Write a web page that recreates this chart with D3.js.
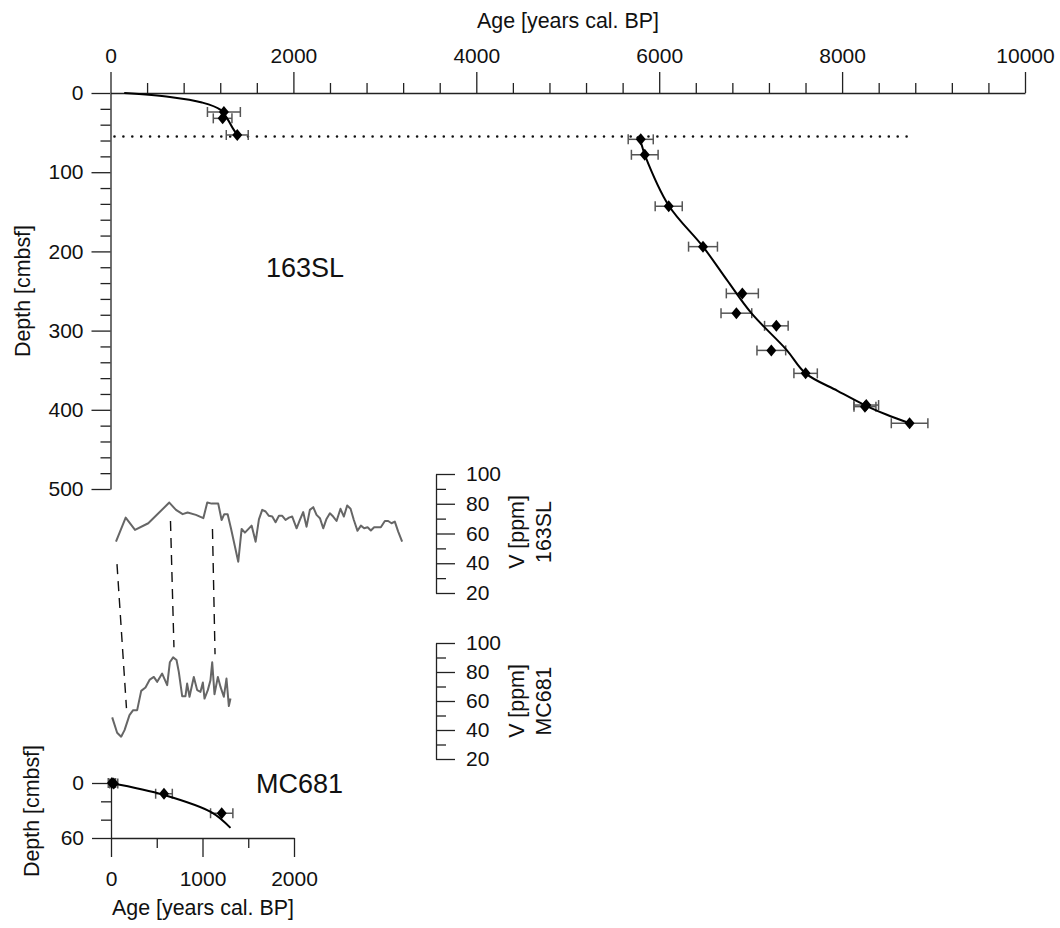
<!DOCTYPE html>
<html><head><meta charset="utf-8">
<script src="https://cdn.jsdelivr.net/npm/d3@7"></script>
<style>body{margin:0;background:#fff} text{font-family:"Liberation Sans",Arial,sans-serif;fill:#111}</style>
</head><body><svg id="c" width="1060" height="928"></svg>
<script>
// ---- data ----
const ageMajorTicks = [0,2000,4000,6000,8000,10000];
const depthMajorTicks = [0,100,200,300,400,500];
const vTicks = [20,40,60,80,100];
const mcDepthTicks = [0,60];
const mcAgeTicks = [0,1000,2000];

// 163SL dated points (age, depth, 1-sigma)
const slAge   = [1240,1226,1386,5798,5842,6104,6479,6909,6844,7281,7226,7601,8264,8250,8738];
const slDepth = [24,32,53,58.5,78,143,194,253,278,294,325,354,394,396,417];
const slErr   = [180,102,120,137,146,148,158,175,168,129,157,128,135,120,200];
// 163SL age model (two segments around hiatus)
const slModelUpperAge   = [150,650,1000,1200,1280,1340,1386];
const slModelUpperDepth = [0,5,12,21,33,45,53];
const slModelLowerAge   = [5757,5800,5842,6104,6479,6740,7008,7390,7601,7950,8264,8483,8738];
const slModelLowerDepth = [55,63,78,142,194,236,278,324,354,376,395,406,417];
const hiatusDepth = 55, hiatusAgeEnd = 8800;

// V [ppm] 163SL
const v163X = [60,166,268,413,643,716,789,843,934,1015,1058,1106,1178,1215,1244,1281,1317,1397,1434,1470,1543,1587,1623,1659,1696,1732,1769,1805,1842,1878,1914,1951,1987,2035,2071,2107,2144,2180,2217,2253,2290,2326,2362,2399,2435,2472,2515,2552,2588,2625,2661,2701,2738,2774,2811,2847,2883,2920,2956,3000,3036,3073,3109,3146,3189];
const v163V = [54.5,70.7,62.4,66.9,80.8,75.9,73.0,74.1,72.5,70.3,80.8,80.1,80.1,69.1,73.0,73.0,63.5,41.0,63.1,60.6,65.3,54.5,69.5,75.9,74.8,71.9,71.4,67.6,71.9,71.9,69.1,70.7,71.4,63.5,69.1,74.4,64.6,75.9,77.7,72.5,70.3,63.5,69.8,73.6,71.4,68.4,76.6,71.4,78.8,76.6,69.1,61.8,65.3,63.5,64.2,62.0,64.2,64.2,64.2,68.4,68.4,66.9,68.0,61.3,54.5];
// V [ppm] MC681
const v681Age = [13,67,111,148,202,242,286,330,377,424,468,505,559,614,643,679,716,741,778,814,832,858,905,942,978,1004,1022,1058,1087,1106,1131,1168,1197,1233,1262,1288,1306];
const v681V   = [48.7,38.1,35.4,39.9,50.3,53.7,53.7,67.0,69.3,74.8,76.6,73.2,78.9,70.9,86.7,90.1,88.3,80.1,63.3,63.3,72.0,62.9,76.6,67.5,66.3,72.7,61.7,67.5,74.3,86.7,64.7,76.6,69.7,62.9,75.5,56.5,61.7];
// tie lines: 163SL (x, V) -> MC681 (age, V)
const tieTopX = [71,656,1115];
const tieTopV = [39.4,68.4,63];
const tieBotAge = [169,688,1137];
const tieBotV = [55.1,97,92.2];

// MC681 dated points
const mcAge   = [10,30,579,1210];
const mcDepth = [0,0.5,11.7,33];
const mcErr   = [40,44,91,122];
const mcModelAge   = [0,580,1100,1306];
const mcModelDepth = [0,13,32,49];

// ---- scales ----
const svg = d3.select("#c");
const FONT = '"Liberation Sans",Arial,sans-serif';
const TICKFS = 21;
const x   = d3.scaleLinear().domain([0,10000]).range([110.5,1025]);
const yD  = d3.scaleLinear().domain([0,500]).range([93,489]);
const yV1 = d3.scaleLinear().domain([20,100]).range([593,474]);
const yV2 = d3.scaleLinear().domain([20,100]).range([759,643]);
const xM  = d3.scaleLinear().domain([0,2000]).range([111,294]);
const yM  = d3.scaleLinear().domain([0,60]).range([783,838]);

function styleAxis(g, hideDomain){
  g.attr("font-size",TICKFS).attr("font-family",FONT);
  g.selectAll("line").attr("stroke","#222").attr("stroke-width",1.3);
  g.select(".domain").attr("stroke","#222").attr("stroke-width",1.3);
  if(hideDomain) g.select(".domain").remove();
  g.selectAll("text").attr("fill","#111");
}
function addAxis(axis, tf, hide){
  const g = svg.append("g").attr("transform",tf).call(axis);
  styleAxis(g, hide); return g;
}
const minor = (a,b,s,ex)=>d3.range(a,b+0.001,s).filter(v=>!ex.includes(v));
const fmt = d3.format("d");

// top age axis
addAxis(d3.axisTop(x).tickValues(minor(0,10000,400,ageMajorTicks)).tickSize(10).tickSizeOuter(0).tickFormat(""),`translate(0,${yD(0)})`,true);
addAxis(d3.axisTop(x).tickValues(ageMajorTicks).tickSize(21).tickSizeOuter(0).tickPadding(9).tickFormat(fmt),`translate(0,${yD(0)})`);
// left depth axis
addAxis(d3.axisLeft(yD).tickValues(minor(0,500,20,depthMajorTicks)).tickSize(10).tickSizeOuter(0).tickFormat(""),`translate(${x(0)},0)`,true);
addAxis(d3.axisLeft(yD).tickValues(depthMajorTicks).tickSize(19).tickSizeOuter(0).tickPadding(8).tickFormat(fmt),`translate(${x(0)},0)`);

// V axes
[yV1,yV2].forEach(ys=>{
  addAxis(d3.axisRight(ys).tickValues([30,50,70,90]).tickSize(10).tickSizeOuter(0).tickFormat(""),`translate(436,0)`,true);
  addAxis(d3.axisRight(ys).tickValues(vTicks).tickSize(19).tickSizeOuter(0).tickPadding(11).tickFormat(fmt),`translate(436,0)`);
});

// MC681 axes
addAxis(d3.axisLeft(yM).tickValues([20,40]).tickSize(10).tickSizeOuter(0).tickFormat(""),`translate(${xM(0)},0)`,true);
addAxis(d3.axisLeft(yM).tickValues(mcDepthTicks).tickSize(19).tickSizeOuter(0).tickPadding(8).tickFormat(fmt),`translate(${xM(0)},0)`);
addAxis(d3.axisBottom(xM).tickValues([500,1500]).tickSize(10).tickSizeOuter(0).tickFormat(""),`translate(0,${yM(60)})`,true);
addAxis(d3.axisBottom(xM).tickValues(mcAgeTicks).tickSize(19).tickSizeOuter(0).tickPadding(14).tickFormat(fmt),`translate(0,${yM(60)})`);

// ---- hiatus dotted line ----
svg.append("line").attr("x1",x(0)+4).attr("x2",x(hiatusAgeEnd)).attr("y1",yD(hiatusDepth)).attr("y2",yD(hiatusDepth))
  .attr("stroke","#111").attr("stroke-width",2.6).attr("stroke-linecap","round").attr("stroke-dasharray","0,8.9");

// ---- helpers ----
function errBars(ages, depths, errs, xs, ys){
  const g = svg.append("g").attr("stroke","#555").attr("stroke-width",1.5).attr("fill","none");
  ages.forEach((a,i)=>{
    const yy = ys(depths[i]);
    g.append("line").attr("x1",xs(a-errs[i])).attr("x2",xs(a+errs[i])).attr("y1",yy).attr("y2",yy);
    [a-errs[i],a+errs[i]].forEach(e=>g.append("line").attr("x1",xs(e)).attr("x2",xs(e)).attr("y1",yy-5).attr("y2",yy+5));
  });
}
function diamonds(ages, depths, xs, ys){
  svg.append("g").selectAll("path").data(ages).join("path")
    .attr("d","M0,-6L5,0L0,6L-5,0Z")
    .attr("transform",(a,i)=>`translate(${xs(a)},${ys(depths[i])})`)
    .attr("fill","#000");
}
function model(ages, depths, xs, ys){
  const pts = ages.map((a,i)=>[xs(a),ys(depths[i])]);
  svg.append("path").attr("d",d3.line().curve(d3.curveCatmullRom.alpha(0.5))(pts))
    .attr("fill","none").attr("stroke","#000").attr("stroke-width",2);
}

// ---- 163SL age-depth ----
errBars(slAge, slDepth, slErr, x, yD);
model(slModelUpperAge, slModelUpperDepth, x, yD);
model(slModelLowerAge, slModelLowerDepth, x, yD);
diamonds(slAge, slDepth, x, yD);

// ---- V curves ----
svg.append("path").attr("d",d3.line()(v163X.map((a,i)=>[x(a),yV1(v163V[i])])))
  .attr("fill","none").attr("stroke","#666").attr("stroke-width",2).attr("stroke-linejoin","round");
svg.append("path").attr("d",d3.line()(v681Age.map((a,i)=>[xM(a),yV2(v681V[i])])))
  .attr("fill","none").attr("stroke","#666").attr("stroke-width",2).attr("stroke-linejoin","round");
// tie lines
tieTopX.forEach((t,i)=>{
  svg.append("line").attr("x1",x(t)).attr("y1",yV1(tieTopV[i])).attr("x2",xM(tieBotAge[i])).attr("y2",yV2(tieBotV[i]))
    .attr("stroke","#111").attr("stroke-width",1.4).attr("stroke-dasharray","10,7");
});

// ---- MC681 age-depth ----
errBars(mcAge, mcDepth, mcErr, xM, yM);
model(mcModelAge, mcModelDepth, xM, yM);
diamonds(mcAge, mcDepth, xM, yM);

// ---- texts ----
function txt(s, tx, ty, size, anchor, rot){
  const t = svg.append("text").text(s).attr("font-size",size).attr("font-family",FONT).attr("text-anchor",anchor||"start");
  if(rot) t.attr("transform",`translate(${tx},${ty}) rotate(-90)`); else t.attr("x",tx).attr("y",ty);
}
txt("Age [years cal. BP]", 568, 27.5, 21.4, "middle");
txt("Depth [cmbsf]", 30, 291, 21.4, "middle", true);
txt("163SL", 266, 277, 27);
txt("V [ppm]", 524, 532, 21.4, "middle", true);
txt("163SL", 551, 532, 21.4, "middle", true);
txt("V [ppm]", 524, 701, 21.4, "middle", true);
txt("MC681", 551, 701, 21.4, "middle", true);
txt("MC681", 256, 792.5, 27);
txt("Depth [cmbsf]", 39, 811, 21.4, "middle", true);
txt("Age [years cal. BP]", 203, 915, 21.4, "middle");
</script></body></html>
